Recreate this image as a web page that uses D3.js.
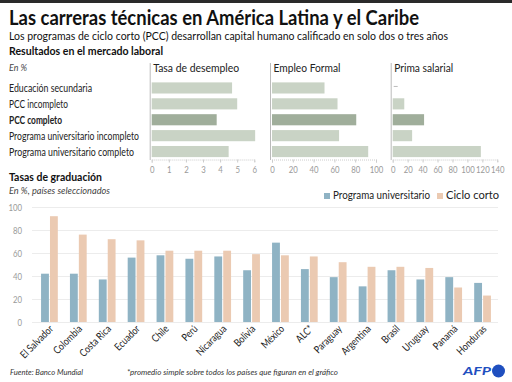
<!DOCTYPE html>
<html>
<head>
<meta charset="utf-8">
<script src="https://cdn.jsdelivr.net/npm/d3@7"></script>
<style>
  body { margin: 0; background: #fff; }
  svg { display: block; font-family: Lato, 'Open Sans', sans-serif; }
</style>
</head>
<body>
<div id="chart"></div>
<script>
// Resultados en el mercado laboral
const groups = ['Educación secundaria', 'PCC incompleto', 'PCC completo',
    'Programa universitario incompleto', 'Programa universitario completo'];
const desempleo = [4.7, 5.0, 3.8, 6.05, 4.5];
const empleoFormal = [50.5, 63, 81, 64.5, 92.5];
const primaSalarial = [null, 15.5, 42, 26, 118];

// Tasas de graduación
const countries = ['El Salvador', 'Colombia', 'Costa Rica', 'Ecuador', 'Chile', 'Perú',
    'Nicaragua', 'Bolivia', 'México', 'ALC*', 'Paraguay', 'Argentina', 'Brasil',
    'Uruguay', 'Panamá', 'Honduras'];
const universitario = [42, 42, 37, 56, 58, 55, 57, 45, 69, 46, 39, 31, 45, 37, 39, 34];
const cicloCorto = [92, 76, 72, 71, 62, 62, 62, 59, 58, 57, 52, 48, 48, 47, 30, 23];

const W = 512, H = 382;
const colors = {
    green: '#c9d3c5',
    greenDark: '#a0ae9b',
    blue: '#8fb3c4',
    peach: '#ebcab2',
    grid: '#ececec',
    tick: '#9a9a9a',
    text: '#222'
};

const svg = d3.select('#chart').append('svg')
    .attr('width', W).attr('height', H);

// squeeze text to a given width (reference font is condensed)
function fit(sel, w) {
    sel.attr('textLength', w).attr('lengthAdjust', 'spacingAndGlyphs');
    return sel;
}
function squeeze(sel, k) {
    sel.each(function () {
        const n = this.getComputedTextLength();
        d3.select(this).attr('textLength', n * k).attr('lengthAdjust', 'spacingAndGlyphs');
    });
    return sel;
}

// top dark band
svg.append('rect').attr('x', 0).attr('y', 0).attr('width', W).attr('height', 3).attr('fill', '#2a2a2a');

fit(svg.append('text').attr('x', 9).attr('y', 25)
    .attr('font-size', 20.5).attr('font-weight', 'bold').attr('fill', '#111')
    .text('Las carreras técnicas en América Latina y el Caribe'), 410);
fit(svg.append('text').attr('x', 9).attr('y', 39.5)
    .attr('font-size', 11.5).attr('fill', '#111')
    .text('Los programas de ciclo corto (PCC) desarrollan capital humano calificado en solo dos o tres años'), 439);
fit(svg.append('text').attr('x', 9).attr('y', 55)
    .attr('font-size', 11.5).attr('font-weight', 'bold').attr('fill', '#111')
    .text('Resultados en el mercado laboral'), 154);
fit(svg.append('text').attr('x', 9).attr('y', 70.5)
    .attr('font-size', 9).attr('font-style', 'italic').attr('fill', '#444')
    .text('En %'), 18);

// row scale shared by the three panels
const yRow = d3.scaleBand().domain(groups).range([80, 159.5]).paddingInner(0.3).paddingOuter(0.15);
const labelW = [83, 59, 53, 130, 125];

svg.append('g').selectAll('text').data(groups).join('text')
    .attr('x', 9)
    .attr('y', d => yRow(d) + yRow.bandwidth() / 2 + 4)
    .attr('font-size', 11.5)
    .attr('font-weight', d => d === 'PCC completo' ? 'bold' : 'normal')
    .attr('fill', '#222')
    .text(d => d)
    .attr('textLength', (d, i) => labelW[i])
    .attr('lengthAdjust', 'spacingAndGlyphs');

function panel(title, titleW, values, x0, x1, max, ticks) {
    const x = d3.scaleLinear().domain([0, max]).range([x0, x1]);
    const g = svg.append('g');
    g.append('line').attr('x1', x0 - 1.5).attr('x2', x0 - 1.5).attr('y1', 63).attr('y2', 160)
        .attr('stroke', '#bbb').attr('stroke-width', 1);
    fit(g.append('text').attr('x', x0 + 1.5).attr('y', 72).attr('font-size', 12).attr('fill', '#222').text(title), titleW);
    values.forEach((v, i) => {
        const cy = yRow(groups[i]) + yRow.bandwidth() / 2;
        if (v == null) {
            g.append('line').attr('x1', x(0) + 1).attr('x2', x(0) + 5)
                .attr('y1', cy - 1.5).attr('y2', cy - 1.5)
                .attr('stroke', '#bbb').attr('stroke-width', 1);
            return;
        }
        g.append('rect')
            .attr('x', x(0)).attr('y', yRow(groups[i]))
            .attr('width', x(v) - x(0)).attr('height', yRow.bandwidth())
            .attr('fill', groups[i] === 'PCC completo' ? colors.greenDark : colors.green);
    });
    const axis = g.append('g').attr('transform', 'translate(0,159.5)')
        .call(d3.axisBottom(x).tickValues(ticks).tickFormat(d3.format('d')).tickSize(3).tickPadding(3.5));
    axis.select('.domain').attr('stroke', '#ccc').attr('stroke-dasharray', '1,1');
    axis.selectAll('.tick line').attr('stroke', '#ccc');
    axis.selectAll('.tick text').attr('fill', colors.tick).attr('font-size', 9.5)
        .attr('font-family', 'Lato, sans-serif');
    squeeze(axis.selectAll('.tick text'), 0.82);
}

panel('Tasa de desempleo', 86, desempleo, 151.7, 254.3, 6, [0, 1, 2, 3, 4, 5, 6]);
panel('Empleo Formal', 67, empleoFormal, 272, 376, 100, [0, 20, 40, 60, 80, 100]);
panel('Prima salarial', 59, primaSalarial, 392.7, 497.3, 140, [0, 20, 40, 60, 80, 100, 120, 140]);

// Tasas de graduación
fit(svg.append('text').attr('x', 9).attr('y', 181)
    .attr('font-size', 11.5).attr('font-weight', 'bold').attr('fill', '#111')
    .text('Tasas de graduación'), 93);
fit(svg.append('text').attr('x', 9).attr('y', 193.5)
    .attr('font-size', 9.5).attr('font-style', 'italic').attr('fill', '#444')
    .text('En %, países seleccionados'), 101);

const x = d3.scaleBand().domain(countries).range([35, 497]).paddingInner(0.42).paddingOuter(0.21);
const xSub = d3.scaleBand().domain(['u', 'c']).range([0, x.bandwidth()]).paddingInner(0.12);
const y = d3.scaleLinear().domain([0, 100]).range([322, 207]);

const yAxis = svg.append('g').attr('transform', 'translate(32,0)')
    .call(d3.axisLeft(y).tickValues([0, 20, 40, 60, 80, 100]).tickSize(-466).tickPadding(10));
yAxis.select('.domain').remove();
yAxis.selectAll('.tick line').attr('stroke', colors.grid);
yAxis.selectAll('.tick text').attr('fill', colors.tick).attr('font-size', 9.5)
    .attr('font-family', 'Lato, sans-serif');
squeeze(yAxis.selectAll('.tick text'), 0.82);

const bars = svg.append('g');
bars.selectAll('.u').data(countries).join('rect').attr('class', 'u')
    .attr('x', d => x(d) + xSub('u'))
    .attr('y', (d, i) => y(universitario[i]))
    .attr('width', xSub.bandwidth())
    .attr('height', (d, i) => y(0) - y(universitario[i]))
    .attr('fill', colors.blue);
bars.selectAll('.c').data(countries).join('rect').attr('class', 'c')
    .attr('x', d => x(d) + xSub('c'))
    .attr('y', (d, i) => y(cicloCorto[i]))
    .attr('width', xSub.bandwidth())
    .attr('height', (d, i) => y(0) - y(cicloCorto[i]))
    .attr('fill', colors.peach);

squeeze(svg.append('g').selectAll('text').data(countries).join('text')
    .attr('transform', d => `translate(${x(d) + x.bandwidth() / 2 + 4.5},${329.5}) rotate(-45)`)
    .attr('text-anchor', 'end')
    .attr('font-size', 10.5).attr('fill', '#222')
    .text(d => d), 0.82);

// legend
const legend = [['Programa universitario', colors.blue, 324, 97], ['Ciclo corto', colors.peach, 437, 53]];
legend.forEach(([label, c, lx, lw]) => {
    svg.append('rect').attr('x', lx).attr('y', 193).attr('width', 6).attr('height', 6).attr('fill', c);
    fit(svg.append('text').attr('x', lx + 9).attr('y', 198.5).attr('font-size', 11.5).attr('fill', '#222').text(label), lw);
});

// footer
fit(svg.append('text').attr('x', 10).attr('y', 375).attr('font-size', 8.5).attr('font-style', 'italic')
    .attr('fill', '#333').text('Fuente: Banco Mundial'), 73);
fit(svg.append('text').attr('x', 127).attr('y', 375).attr('font-size', 8.5).attr('font-style', 'italic')
    .attr('fill', '#333').text('*promedio simple sobre todos los países que figuran en el gráfico'), 211);

// AFP logo
fit(svg.append('text').attr('x', 463).attr('y', 375).attr('font-size', 12).attr('font-weight', 'bold')
    .attr('font-style', 'italic').attr('fill', '#1f4fbf').text('AFP'), 28);
svg.append('circle').attr('cx', 498.5).attr('cy', 371).attr('r', 6.5).attr('fill', '#1f4fbf');
</script>
</body>
</html>
